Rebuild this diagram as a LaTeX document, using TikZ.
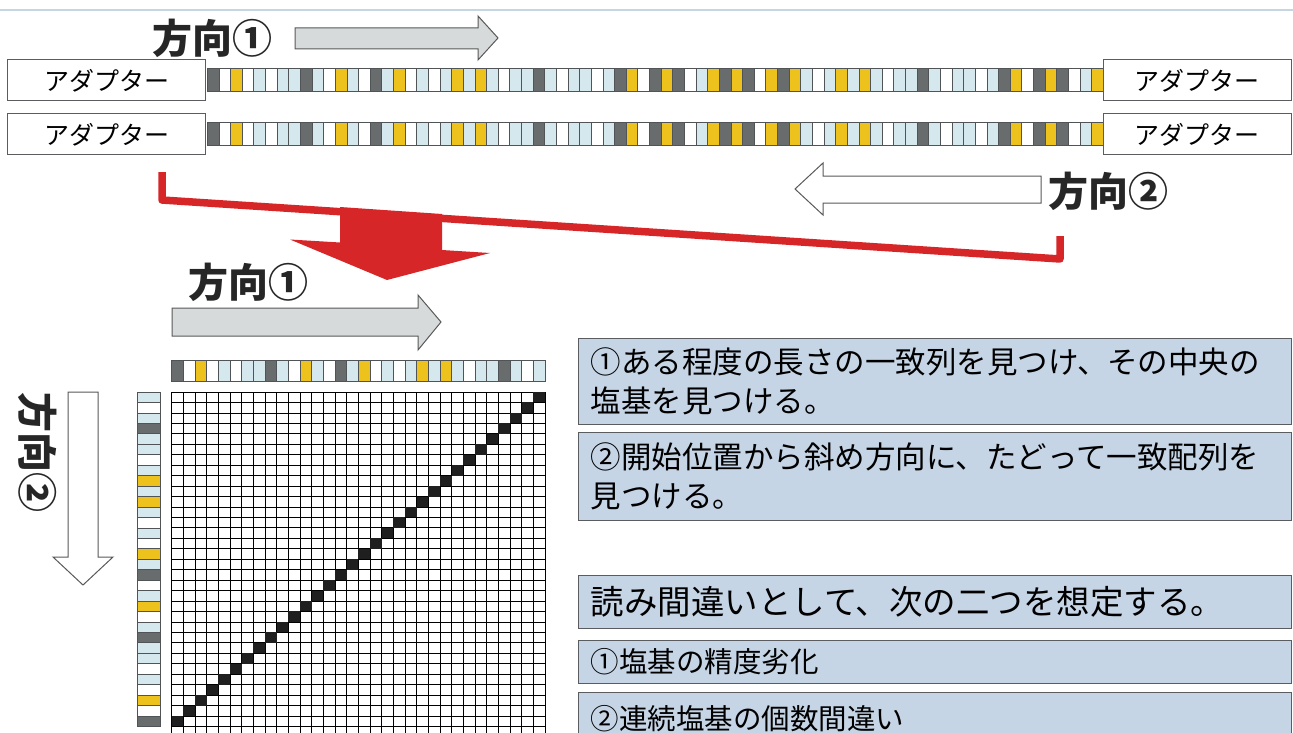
\documentclass[tikz,border=0pt]{standalone}
\usepackage{fontspec}
\newfontfamily\jp{Noto Sans CJK JP}
\definecolor{cD}{RGB}{105,108,108}
\definecolor{cY}{RGB}{238,194,28}
\definecolor{cL}{RGB}{212,232,238}
\definecolor{cW}{RGB}{255,255,255}
\definecolor{cellline}{RGB}{80,84,86}
\definecolor{boxfill}{RGB}{198,213,230}
\definecolor{boxline}{RGB}{90,92,96}
\definecolor{arrowgray}{RGB}{214,218,218}
\definecolor{redline}{RGB}{214,38,40}
\definecolor{topline}{RGB}{196,214,226}
\def\seqA{D,W,Y,W,L,W,L,L,D,L,W,Y,L,W,D,L,Y,W,L,W,L,Y,L,Y,L,W,L,L,D,L,W,L,L,W,L,D,Y,W,D,Y,D,W,L,Y,D,Y,D,W,Y,D,Y,L,W,L,Y,L,Y,L,W,L,L,D,L,W,L,L,W,L,D,Y,W,D,Y,D,W,L,Y}
\def\seqV{L,W,L,D,L,L,W,L,Y,L,Y,L,W,L,W,Y,L,D,W,L,Y,W,L,D,L,L,W,L,W,Y,W,D}
\newcommand\cellrow[5]{%
  \foreach \c [count=\i from 0] in \seqA {\ifnum\i<#5\relax
    \filldraw[fill=c\c,draw=cellline,line width=0.7pt] ({#1+\i*#3},#2) rectangle ++(#3,#4);\fi}}
\begin{document}
\begin{tikzpicture}[x=1pt,y=-1pt,
  adapt/.style={draw=boxline,fill=white,line width=1pt,minimum height=41pt,inner sep=0pt,font=\jp\fontsize{25}{30}\selectfont},
  dirlabel/.style={inner sep=0pt,font=\jp\bfseries\fontsize{40}{44}\selectfont,text=black!85},
  tbox/.style={draw=boxline,fill=boxfill,line width=1pt,anchor=north west,inner xsep=12pt,inner ysep=0pt,align=left,text width=689pt,minimum width=713pt},
  grayarrow/.style={fill=arrowgray,draw=black!65,line width=1pt,line join=miter},
  whitearrow/.style={fill=white,draw=black!65,line width=1pt,line join=miter}]
\useasboundingbox (0,0) rectangle (1293,733);
\clip (0,0) rectangle (1293,733);
\fill[white] (0,0) rectangle (1293,733);
\draw[topline,line width=1.2pt] (0,10) -- (1293,10);

% top direction 1
\node[dirlabel] (d1a) at (212,38) {方向①};
\draw[grayarrow] (295,28) -- (478,28) -- (478,16) -- (498,38) -- (478,60) -- (478,49) -- (295,49) -- cycle;

% strands
\cellrow{207.3}{68}{11.636}{23}{77}
\cellrow{207.3}{122}{11.636}{23}{77}
\draw[cellline,line width=0.8pt] (207.3,68) rectangle (1103,91);
\draw[cellline,line width=0.8pt] (207.3,122) rectangle (1103,145);
\node[adapt,minimum width=198pt] (a1) at (106.5,80.5) {アダプター};
\node[adapt,minimum width=198pt] (a2) at (106.5,134.5) {アダプター};
\node[adapt,minimum width=188pt] (a3) at (1197,80.5) {アダプター};
\node[adapt,minimum width=188pt] (a4) at (1197,134.5) {アダプター};

% direction 2 (right)
\draw[whitearrow] (1041,176) -- (823,176) -- (823,163) -- (795,189) -- (823,215) -- (823,203) -- (1041,203) -- cycle;
\node[dirlabel] (d2a) at (1108,191) {方向②};

% red bracket and arrow
\draw[redline,line width=7.5pt,line join=round,line cap=butt] (162,172) -- (162,200) -- (1060,259) -- (1060,236);
\fill[redline] (340,207) -- (340,242.5) -- (290,239.5) -- (387,280) -- (490,253) -- (442,250) -- (442,214) -- cycle;

% lower direction 1
\node[dirlabel] (d1b) at (248,282) {方向①};
\draw[grayarrow] (172,308) -- (418,308) -- (418,295) -- (441,322) -- (418,350) -- (418,336) -- (172,336) -- cycle;

% grid header strand
\cellrow{171.7}{360}{11.67}{21.5}{32}

% grid
\def\gh{10.45}
\foreach \k in {0,...,32} \draw[black,line width=0.8pt] ({171.7+\k*11.67},392) -- ({171.7+\k*11.67},740);
\foreach \k in {0,...,33} \draw[black,line width=0.8pt] (171.7,{392+\k*\gh}) -- (545.1,{392+\k*\gh});
\foreach \k in {1,...,32} \fill[black!88] ({171.7+(\k-1)*11.67},{392+(32-\k)*\gh}) rectangle ++(11.67,\gh);

% vertical strand
\foreach \c [count=\i from 0] in \seqV
  \filldraw[fill=c\c,draw=cellline,line width=0.7pt] (137,{392+\i*\gh}) rectangle ++(23,\gh);

% left direction 2
\draw[whitearrow] (68,392) -- (98,392) -- (98,557) -- (113,557) -- (83,585) -- (53,557) -- (68,557) -- cycle;
\node[dirlabel,rotate=-90] (d2b) at (38,452) {方向②};

% text boxes
\node[tbox,minimum height=86pt,font=\jp\fontsize{30.5}{39}\selectfont] (t1) at (578,338) {①ある程度の長さの一致列を見つけ、その中央の\\塩基を見つける。};
\node[tbox,minimum height=88pt,font=\jp\fontsize{30.5}{39}\selectfont] (t2) at (578,432) {②開始位置から斜め方向に、たどって一致配列を\\見つける。};
\node[tbox,minimum height=53pt,font=\jp\fontsize{33.5}{38}\selectfont] (t3) at (578,575) {読み間違いとして、次の二つを想定する。};
\node[tbox,minimum height=43pt,font=\jp\fontsize{28.5}{32}\selectfont] (t4) at (578,640) {①塩基の精度劣化};
\node[tbox,minimum height=52pt,font=\jp\fontsize{28.5}{32}\selectfont] (t5) at (578,692) {②連続塩基の個数間違い};
\end{tikzpicture}
\end{document}
